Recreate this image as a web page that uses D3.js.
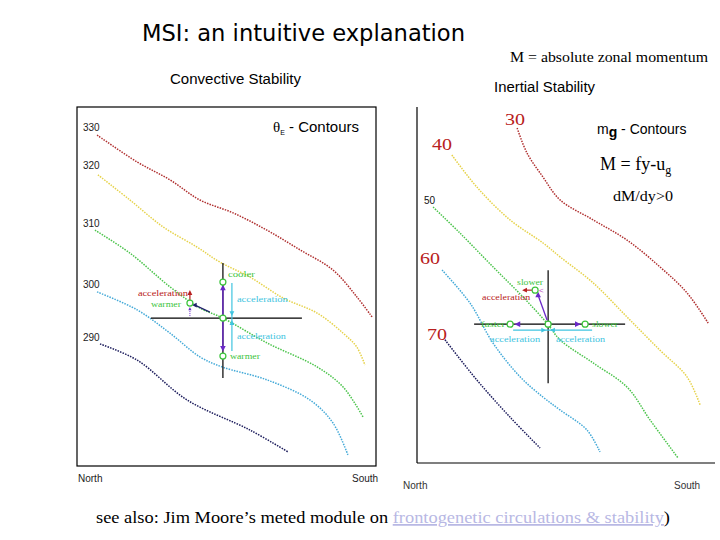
<!DOCTYPE html>
<html><head><meta charset="utf-8">
<script src="https://cdn.jsdelivr.net/npm/d3@7"></script>
<style>body{margin:0;background:#fff}svg{display:block}</style>
</head><body><svg id="c" width="720" height="540"></svg>
<script>
// ---------------- DATA (normalized panel units, 0-100, North->South, top->bottom) -------------
const thetaLevels = ["330", "320", "310", "300", "290"];
const theta330 = [[6.7,7.8],[20.1,15.3],[31.1,20.3],[41.1,25.9],[52.2,29.5],[63.5,34.3],[74.6,39.8],[85.6,45.4],[93.6,52.9],[98.7,58.5]];
const theta320 = [[7.0,18.9],[17.7,25.9],[28.8,33.4],[40.1,39.0],[47.8,43.2],[57.9,47.4],[68.9,53.2],[80.3,57.4],[89.0,63.0],[93.6,66.9],[96.3,71.9]];
const theta310 = [[6.0,34.3],[17.7,40.7],[31.1,50.1],[41.1,56.0],[48.8,58.8],[63.5,65.7],[80.3,72.4],[89.0,78.0],[95.7,86.4]];
const theta300 = [[6.7,51.5],[20.1,56.5],[31.1,63.0],[41.1,69.6],[48.5,72.4],[63.5,76.0],[77.9,81.6],[85.6,88.0],[90.6,96.9]];
const theta290 = [[7.7,66.0],[20.1,70.5],[36.8,81.6],[57.9,90.0],[70.6,96.1]];

const mLevels = ["30", "40", "50", "60", "70"];
const m30 = [[33.6,5.9],[36.9,12.9],[42.3,19.7],[48.0,26.1],[59.1,31.7],[70.5,37.4],[81.5,44.9],[90.6,52.2],[97.7,60.7]];
const m40 = [[11.7,13.5],[20.1,22.5],[31.2,31.7],[42.3,38.2],[48.0,42.1],[59.1,49.4],[70.5,59.0],[81.5,68.3],[90.6,75.8],[95.0,83.7]];
const m50 = [[5.4,28.1],[14.4,35.4],[25.5,44.9],[35.6,53.4],[43.6,60.7],[48.0,65.4],[59.1,71.9],[70.5,78.7],[78.2,87.9],[87.6,98.6]];
const m60 = [[8.4,45.8],[17.8,55.1],[25.5,66.3],[34.6,75.8],[42.3,81.5],[48.0,85.1],[57.0,90.7],[61.4,96.9]];
const m70 = [[9.4,65.4],[20.1,76.7],[31.2,87.1],[41.3,95.8]];

// parcel reference points (on the middle contour) in panel units
const crossLeft = [48.8, 58.8];
const crossRight = [44.0, 61.0];

// ---------------- STYLE / LAYOUT ----------------
const contourColors = ["#b03030", "#e6d24a", "#4cc44c", "#45aad8", "#1c1c5c"];
const GREEN = "#3cc43c", CYAN = "#40c4e0", RED = "#b82020", PURPLE = "#6a28c8";

const svg = d3.select("#c");
const xL = d3.scaleLinear().domain([0,100]).range([77,376]);
const yL = d3.scaleLinear().domain([0,100]).range([107,466]);
const xR = d3.scaleLinear().domain([0,100]).range([417,715]);
const yR = d3.scaleLinear().domain([0,100]).range([107,463]);

function txt(x, y, s, opt) {
  const t = svg.append("text").attr("x", x).attr("y", y)
    .attr("font-family", opt.family || "Arial, 'Liberation Sans', sans-serif")
    .attr("font-size", opt.size || 10)
    .attr("fill", opt.color || "#000")
    .attr("text-anchor", opt.anchor || "start");
  if (opt.weight) t.attr("font-weight", opt.weight);
  if (opt.len) t.attr("textLength", opt.len).attr("lengthAdjust", "spacingAndGlyphs");
  t.text(s);
  return t;
}
function tri(x, y, dir, color, s) {
  s = s || 3.5;
  let p;
  if (dir === "up") p = [[x, y - s], [x - s*0.8, y + s*0.6], [x + s*0.8, y + s*0.6]];
  else if (dir === "down") p = [[x, y + s], [x - s*0.8, y - s*0.6], [x + s*0.8, y - s*0.6]];
  else if (dir === "left") p = [[x - s, y], [x + s*0.6, y - s*0.8], [x + s*0.6, y + s*0.8]];
  else p = [[x + s, y], [x - s*0.6, y - s*0.8], [x - s*0.6, y + s*0.8]];
  svg.append("path").attr("d", "M" + p.join("L") + "Z").attr("fill", color);
}
function seg(x1, y1, x2, y2, color, w, dash) {
  const l = svg.append("line").attr("x1", x1).attr("y1", y1).attr("x2", x2).attr("y2", y2)
    .attr("stroke", color).attr("stroke-width", w || 1);
  if (dash) l.attr("stroke-dasharray", dash);
  return l;
}
function circ(x, y) {
  svg.append("circle").attr("cx", x).attr("cy", y).attr("r", 3)
    .attr("fill", "#fff").attr("stroke", GREEN).attr("stroke-width", 1.2);
}

// ---------------- TITLES ----------------
txt(142, 41, "MSI: an intuitive explanation", {family: "'DejaVu Sans', sans-serif", size: 23, len: 323});
txt(510, 62, "M = absolute zonal momentum", {family: "'Liberation Serif', 'Times New Roman', serif", size: 15, len: 198});
txt(170, 84, "Convective Stability", {size: 14, len: 131});
txt(494, 92, "Inertial Stability", {size: 14, len: 101});

// ---------------- LEFT PANEL ----------------
svg.append("rect").attr("x", xL(0)).attr("y", yL(0)).attr("width", xL(100) - xL(0)).attr("height", yL(100) - yL(0))
  .attr("fill", "none").attr("stroke", "#000").attr("stroke-width", 1.2);

const lineL = d3.line().x(d => xL(d[0])).y(d => yL(d[1])).curve(d3.curveCatmullRom);
[theta330, theta320, theta310, theta300, theta290].forEach((c, i) => {
  svg.append("path").attr("d", lineL(c)).attr("fill", "none").attr("stroke", contourColors[i])
    .attr("stroke-width", 1.5).attr("stroke-dasharray", "1.5,1.2");
});
const thetaLabelY = [131, 169, 227, 288, 341];
thetaLevels.forEach((s, i) => txt(83, thetaLabelY[i], s, {size: 10, color: "#222"}));

// theta_E - Contours
{
  const t = svg.append("text").attr("x", 273).attr("y", 132).attr("font-family", "Arial, sans-serif").attr("font-size", 15);
  t.append("tspan").text("θ").attr("font-family", "'Liberation Serif', serif");
  t.append("tspan").text("E").attr("font-size", 7).attr("dy", 3);
  t.append("tspan").text(" - Contours").attr("dy", -3);
}
txt(78, 482, "North", {size: 10, color: "#222"});
txt(352, 482, "South", {size: 10, color: "#222"});

// crosshair & parcels (left)
{
  const cx = xL(crossLeft[0]), cy = yL(crossLeft[1]);
  seg(cx - 72, cy, cx + 79, cy, "#000", 1.2);
  seg(cx, cy - 55, cx, cy + 60, "#000", 1.2);
  seg(cx, cy - 3, cx, cy - 30, PURPLE, 1.4); tri(cx, cy - 30, "up", PURPLE);
  seg(cx, cy + 3, cx, cy + 30, PURPLE, 1.4); tri(cx, cy + 30, "down", PURPLE);
  seg(cx + 9, cy - 35, cx + 9, cy + 33, CYAN, 1.2);
  tri(cx + 9, cy - 5, "down", CYAN, 3); tri(cx + 9, cy + 5, "up", CYAN, 3);
  circ(cx, cy - 36); circ(cx, cy); circ(cx, cy + 38);
  txt(cx + 5, cy - 41, "cooler", {size: 9, color: GREEN, family: "'Liberation Serif', serif", len: 27});
  txt(cx + 14, cy - 16, "acceleration", {size: 9, color: CYAN, family: "'Liberation Serif', serif", len: 51});
  txt(cx + 14, cy + 21, "acceleration", {size: 9, color: CYAN, family: "'Liberation Serif', serif", len: 49});
  txt(cx + 7, cy + 41, "warmer", {size: 9, color: GREEN, family: "'Liberation Serif', serif", len: 30});
  const px = cx - 33, py = cy - 15;
  seg(px, py - 3, px, py - 10, RED, 1.2); tri(px, py - 10, "up", RED, 3);
  seg(px, py + 13, px, py + 7, PURPLE, 1, "1,1"); tri(px, py + 6, "up", PURPLE, 2);
  seg(cx - 13, cy - 6, px + 5, py + 2, "#20206a", 1.2); tri(px + 5, py + 2, "left", "#20206a", 3);
  circ(px, py);
  txt(px - 2, py - 7, "acceleration", {size: 9, color: RED, family: "'Liberation Serif', serif", anchor: "end", len: 50});
  txt(px - 9, py + 4, "warmer", {size: 9, color: GREEN, family: "'Liberation Serif', serif", anchor: "end", len: 30});
}

// ---------------- RIGHT PANEL ----------------
seg(xR(0), yR(0), xR(0), yR(100), "#000", 1.2);
seg(xR(0), yR(100), xR(100), yR(100), "#000", 1.2);

const lineR = d3.line().x(d => xR(d[0])).y(d => yR(d[1])).curve(d3.curveCatmullRom);
[m30, m40, m50, m60, m70].forEach((c, i) => {
  svg.append("path").attr("d", lineR(c)).attr("fill", "none").attr("stroke", contourColors[i])
    .attr("stroke-width", 1.5).attr("stroke-dasharray", "1.5,1.2");
});
const mLabelPos = [[505, 125], [432, 150], [424, 204], [420, 264], [427, 340]];
mLevels.forEach((s, i) => {
  if (s === "50") txt(mLabelPos[i][0], mLabelPos[i][1], s, {size: 10, color: "#111"});
  else txt(mLabelPos[i][0], mLabelPos[i][1], s, {size: 17, color: RED, family: "'Liberation Serif', 'Times New Roman', serif", len: 20});
});
{
  const t = svg.append("text").attr("x", 597).attr("y", 134).attr("font-family", "Arial, sans-serif").attr("font-size", 14);
  t.append("tspan").text("m");
  t.append("tspan").text("g").attr("dy", 3).attr("font-weight", "bold");
  t.append("tspan").text(" - Contours").attr("dy", -3);
  const t2 = svg.append("text").attr("x", 600).attr("y", 170).attr("font-family", "'Liberation Serif', 'Times New Roman', serif").attr("font-size", 18);
  t2.append("tspan").text("M = fy-u");
  t2.append("tspan").text("g").attr("font-size", 12).attr("dy", 4);
  txt(613, 201, "dM/dy>0", {size: 15, family: "'Liberation Serif', 'Times New Roman', serif", len: 60});
}
txt(403, 489, "North", {size: 10, color: "#333"});
txt(674, 489, "South", {size: 10, color: "#333"});

{
  const cx = xR(crossRight[0]), cy = yR(crossRight[1]);
  seg(cx - 74, cy, cx + 77, cy, "#000", 1.2);
  seg(cx, cy - 54, cx, cy + 59, "#000", 1.2);
  circ(cx - 38, cy); circ(cx, cy); circ(cx + 37, cy);
  tri(cx - 30, cy, "left", PURPLE, 3.5); tri(cx + 29, cy, "right", PURPLE, 3.5);
  txt(cx - 43, cy + 3, "faster", {size: 9, color: GREEN, family: "'Liberation Serif', serif", anchor: "end", len: 24});
  txt(cx + 44, cy + 3, "slower", {size: 9, color: GREEN, family: "'Liberation Serif', serif", len: 26});
  seg(cx - 35, cy + 6, cx + 44, cy + 6, CYAN, 1.2);
  tri(cx - 5, cy + 6, "right", CYAN, 3); tri(cx + 5, cy + 6, "left", CYAN, 3);
  txt(cx - 58, cy + 18, "acceleration", {size: 9, color: CYAN, family: "'Liberation Serif', serif", len: 50});
  txt(cx + 8, cy + 18, "acceleration", {size: 9, color: CYAN, family: "'Liberation Serif', serif", len: 49});
  const px = cx - 13, py = cy - 34;
  seg(cx - 1, cy - 4, px + 3, py + 5, PURPLE, 1.3); tri(px + 3, py + 5, "up", PURPLE, 3.5);
  seg(px - 3, py, px - 10, py, RED, 1.2); tri(px - 10, py, "left", RED, 3);
  circ(px, py);
  txt(px + 4, py + 3, "<", {size: 8, color: "#c050c0"});
  txt(cx - 31, py - 5, "slower", {size: 9, color: GREEN, family: "'Liberation Serif', serif", len: 26});
  txt(cx - 66, py + 10, "acceleration", {size: 9, color: RED, family: "'Liberation Serif', serif", len: 48});
}

// ---------------- FOOTER ----------------
{
  const t = svg.append("text").attr("x", 96).attr("y", 523).attr("font-family", "'Liberation Serif', 'Times New Roman', serif")
    .attr("font-size", 17.5).attr("textLength", 574).attr("lengthAdjust", "spacingAndGlyphs");
  t.append("tspan").text("see also: Jim Moore\u2019s meted module on ");
  t.append("tspan").text("frontogenetic circulations & stability").attr("fill", "#b8b8e4").attr("text-decoration", "underline");
  t.append("tspan").text(")");
}
</script></body></html>
